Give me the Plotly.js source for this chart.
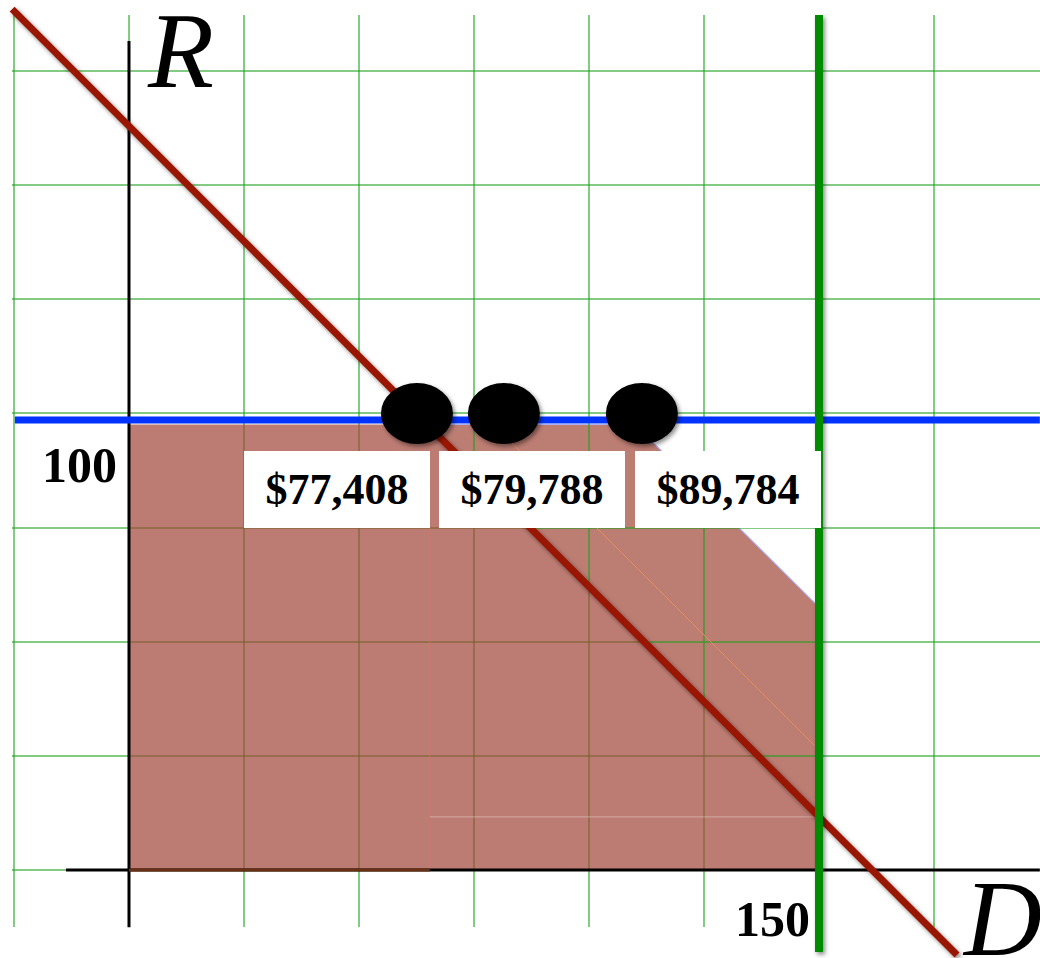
<!DOCTYPE html>
<html>
<head>
<meta charset="utf-8">
<script src="https://cdn.plot.ly/plotly-3.0.1.min.js"></script>
<style>
  html, body { margin: 0; padding: 0; background: #fff; }
  #chart { width: 1040px; height: 958px; }
</style>
</head>
<body>
<svg width="0" height="0" style="position:absolute">
  <defs>
    <filter id="softShadow" filterUnits="userSpaceOnUse" x="-200" y="-200" width="1500" height="1400">
      <feDropShadow dx="2" dy="2.5" stdDeviation="2.2" flood-color="#000" flood-opacity="0.45"/>
    </filter>
  </defs>
</svg>
<div id="chart"></div>
<script>
// ---- values (D = demand, R = revenue axis) ----
const revenueLevel = 100;          // horizontal blue constraint
const demandCap = 150;             // vertical green constraint

const blueD = [-24.8, 198];
const blueR = [revenueLevel, revenueLevel];

const greenD = [demandCap, demandCap];
const greenR = [190, -18.2];

const redD = [-25.4, 180];
const redR = [191.3, -18.9];

const xAxisD = [-13.7, 198];
const xAxisR = [0, 0];
const yAxisD = [0, 0];
const yAxisR = [-12.7, 184.2];

// feasible region below the red line (drawn over the grid)
const lowerD = [0, 0, 65, 150, 150];
const lowerR = [0, 99, 99, 11.8, 0];

// feasible region above the red line (drawn under the grid)
const upperD = [65, 110, 150, 150];
const upperR = [99, 99, 58.4, 11.8];

// seams between the stacked patches
const seamVD = [65.4, 65.4];
const seamVR = [0, 98];
const seamHD = [65.4, 150];
const seamHR = [11.8, 11.8];
const seamDiagD = [79.3, 149.5];
const seamDiagR = [98.9, 27.2];
const baseEdgeD = [0, 65.4];
const baseEdgeR = [0, 0];

// candidate points on the blue line and their values
const dotD = [62.6, 81.5, 111.5];
const dotR = [revenueLevel, revenueLevel, revenueLevel];
const valueLabels = ['$77,408', '$79,788', '$89,784'];
const valueD = [45.2, 87.7, 130.2];
const valueR = [84.6, 84.6, 84.6];

// axis names and tick labels
const axisNames = ['R', 'D'];
const axisNameD = [11.1, 189.8];
const axisNameR = [182.2, -10.7];
const tickLabels = ['100', '150'];
const tickLabelD = [-10.7, 139.9];
const tickLabelR = [89.9, -10.8];

// ---- plot setup ----
const X_RANGE = [-28.04, 198.04];
const Y_RANGE = [-19.56, 193.33];
const GRID_D = 25;
const GRID_R = 25.365;
const GRID_COLOR = 'rgba(30,160,30,0.55)';
const SERIF = '"Liberation Serif", "Times New Roman", serif';

function seg(x, y, color, width) {
  return { type: 'scatter', mode: 'lines', x: x, y: y,
           line: { color: color, width: width }, hoverinfo: 'skip', showlegend: false };
}

const traces = [
  { type: 'scatter', mode: 'lines', x: lowerD, y: lowerR, fill: 'toself',
    fillcolor: 'rgba(159,69,55,0.70)', line: { width: 0 }, hoverinfo: 'skip', showlegend: false },
  seg(seamVD, seamVR, 'rgba(220,120,80,0.55)', 1),
  seg(seamHD, seamHR, 'rgba(255,255,255,0.35)', 1),
  seg(seamDiagD, seamDiagR, 'rgba(240,145,95,0.85)', 1),
  seg(xAxisD, xAxisR, '#000', 3),
  seg(yAxisD, yAxisR, '#000', 3),
  seg(baseEdgeD, baseEdgeR, 'rgb(105,48,20)', 3),
  seg(blueD, blueR, 'rgb(0,51,255)', 7),
  seg(redD, redR, 'rgb(153,22,0)', 7),
  seg(greenD, greenR, 'rgb(0,140,0)', 8)
];

const upperPath = 'M ' + upperD.map((d, i) => d + ',' + upperR[i]).join(' L ') + ' Z';

const shapes = [
  { type: 'path', path: upperPath, xref: 'x', yref: 'y', layer: 'below',
    fillcolor: 'rgb(188,125,115)', line: { color: 'rgba(170,175,255,0.9)', width: 1.2 } },
  // white margins around the grid
  { type: 'rect', xref: 'x', yref: 'y', layer: 'between', x0: -40, x1: 210, y0: 190.0, y1: 200,
    fillcolor: '#fff', line: { width: 0 } },
  { type: 'rect', xref: 'x', yref: 'y', layer: 'between', x0: -40, x1: 210, y0: -30, y1: -12.67,
    fillcolor: '#fff', line: { width: 0 } },
  { type: 'rect', xref: 'x', yref: 'y', layer: 'between', x0: -40, x1: -25.45, y0: -30, y1: 200,
    fillcolor: '#fff', line: { width: 0 } }
];

dotD.forEach((d, i) => {
  shapes.push({ type: 'circle', xref: 'x', yref: 'y', layer: 'above',
    xsizemode: 'pixel', ysizemode: 'pixel', xanchor: d, yanchor: dotR[i],
    x0: -36, x1: 36, y0: -24, y1: 37,
    fillcolor: '#000', line: { width: 0 } });
});

const annotations = [];
valueLabels.forEach((t, i) => {
  annotations.push({ text: t, x: valueD[i], y: valueR[i], xref: 'x', yref: 'y',
    showarrow: false, xanchor: 'center', yanchor: 'middle',
    width: 186, height: 77, borderpad: 0, borderwidth: 0, bgcolor: '#fff',
    font: { family: SERIF, size: 44, color: '#000', weight: 700 } });
});
axisNames.forEach((t, i) => {
  annotations.push({ text: t, x: axisNameD[i], y: axisNameR[i], xref: 'x', yref: 'y',
    showarrow: false, xanchor: 'center', yanchor: 'middle',
    font: { family: SERIF, size: 108, color: '#000', style: 'italic' } });
});
tickLabels.forEach((t, i) => {
  annotations.push({ text: t, x: tickLabelD[i], y: tickLabelR[i], xref: 'x', yref: 'y',
    showarrow: false, xanchor: 'center', yanchor: 'middle',
    font: { family: SERIF, size: 50, color: '#000', weight: 700 } });
});

const layout = {
  width: 1040, height: 958,
  margin: { l: 0, r: 0, t: 0, b: 0, pad: 0 },
  paper_bgcolor: '#fff', plot_bgcolor: '#fff',
  showlegend: false,
  xaxis: { range: X_RANGE, tick0: 0, dtick: GRID_D, showgrid: true, gridcolor: GRID_COLOR, gridwidth: 2,
           zeroline: false, showline: false, showticklabels: false, ticks: '', fixedrange: true },
  yaxis: { range: Y_RANGE, tick0: 0, dtick: GRID_R, showgrid: true, gridcolor: GRID_COLOR, gridwidth: 2,
           zeroline: false, showline: false, showticklabels: false, ticks: '', fixedrange: true },
  shapes: shapes,
  annotations: annotations
};

Plotly.newPlot('chart', traces, layout, { staticPlot: true, displayModeBar: false }).then(gd => {
  const groups = gd.querySelectorAll('g.trace.scatter');
  [8, 9].forEach(i => { if (groups[i]) groups[i].setAttribute('filter', 'url(#softShadow)'); });
  gd.querySelectorAll('.layer-above .shapelayer path').forEach(p => p.setAttribute('filter', 'url(#softShadow)'));
});
</script>
</body>
</html>
